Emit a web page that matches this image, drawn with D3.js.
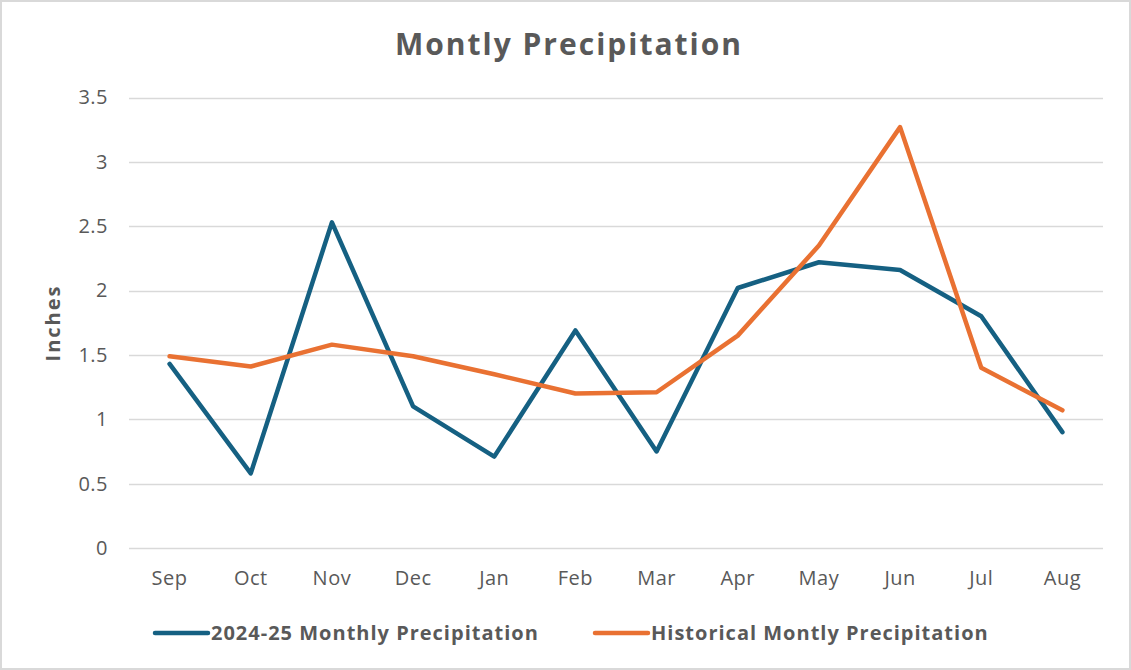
<!DOCTYPE html>
<html>
<head>
<meta charset="utf-8">
<script src="https://cdn.jsdelivr.net/npm/d3@7"></script>
<style>
  body { margin: 0; background: #fff; }
  svg { display: block; font-family: "Open Sans", "Liberation Sans", sans-serif; }
</style>
</head>
<body>
<div id="chart"></div>
<script>
(function(){

    var months = ["Sep","Oct","Nov","Dec","Jan","Feb","Mar","Apr","May","Jun","Jul","Aug"];
    var current = [1.43,0.58,2.53,1.10,0.71,1.69,0.75,2.02,2.22,2.16,1.80,0.90];
    var historical = [1.49,1.41,1.58,1.49,1.35,1.20,1.21,1.65,2.35,3.27,1.40,1.07];
    var yTicks = [0,0.5,1,1.5,2,2.5,3,3.5];
    var seriesNames = ["2024-25 Monthly Precipitation","Historical Montly Precipitation"];
    var colors = ["#156082","#E97132"];

    var W = 1131, H = 670;
    var svg = d3.select("#chart").append("svg").attr("width",W).attr("height",H);

    svg.append("rect")
        .attr("x",1).attr("y",1).attr("width",W-2).attr("height",H-2)
        .attr("fill","#fff").attr("stroke","#d9d9d9").attr("stroke-width",2);

    var left = 129, right = 1103, top = 97.5, bottom = 548;

    var x = d3.scaleBand().domain(months).range([left,right]);
    var y = d3.scaleLinear().domain([0,3.5]).range([bottom,top]);

    // gridlines
    svg.append("g").selectAll("line").data(yTicks).enter().append("line")
        .attr("x1",left).attr("x2",right)
        .attr("y1",function(d){ return Math.round(y(d))+0.5; })
        .attr("y2",function(d){ return Math.round(y(d))+0.5; })
        .attr("stroke","#d9d9d9").attr("stroke-width",1.5);

    // y axis labels
    var yAxis = d3.axisLeft(y).tickValues(yTicks).tickSize(0).tickPadding(0)
        .tickFormat(function(d){ return String(d); });
    var gy = svg.append("g").attr("transform","translate(108,0)").call(yAxis);
    gy.select(".domain").remove();
    gy.selectAll("text").attr("fill","#595959").style("font-size","20px")
        .style("letter-spacing","0.5px")
        .style("font-family","'Open Sans', sans-serif");

    // x axis labels
    var xAxis = d3.axisBottom(x).tickSize(0).tickPadding(0);
    var gx = svg.append("g").attr("transform","translate(0,571)").call(xAxis);
    gx.select(".domain").remove();
    gx.selectAll("text").attr("fill","#595959").style("font-size","20px")
        .style("letter-spacing","0.5px")
        .style("font-family","'Open Sans', sans-serif");

    // lines
    var line = d3.line()
        .x(function(d,i){ return x(months[i]) + x.bandwidth()/2; })
        .y(function(d){ return y(d); });

    [current,historical].forEach(function(s,i){
        svg.append("path").datum(s)
            .attr("d",line)
            .attr("fill","none")
            .attr("stroke",colors[i])
            .attr("stroke-width",4.5)
            .attr("stroke-linejoin","round")
            .attr("stroke-linecap","round");
    });

    // title
    svg.append("text").attr("x",569).attr("y",55)
        .attr("text-anchor","middle")
        .attr("fill","#595959")
        .style("font-size","30px").style("font-weight","bold")
        .style("letter-spacing","2px")
        .text("Montly Precipitation");

    // y axis title
    svg.append("text")
        .attr("transform","translate(60,323) rotate(-90)")
        .attr("text-anchor","middle")
        .attr("fill","#595959")
        .style("font-size","20px").style("font-weight","bold")
        .style("letter-spacing","2px")
        .text("Inches");

    // legend
    var legendX = [153,593];
    seriesNames.forEach(function(name,i){
        var g = svg.append("g").attr("transform","translate("+legendX[i]+",633)");
        g.append("line").attr("x1",2).attr("x2",55).attr("y1",0).attr("y2",0)
            .attr("stroke",colors[i]).attr("stroke-width",4.5).attr("stroke-linecap","round");
        g.append("text").attr("x",58).attr("y",7)
            .attr("fill","#595959")
            .style("font-size","20px").style("font-weight","bold")
            .style("letter-spacing","1px")
            .text(name);
    });

})();
</script>
</body>
</html>
